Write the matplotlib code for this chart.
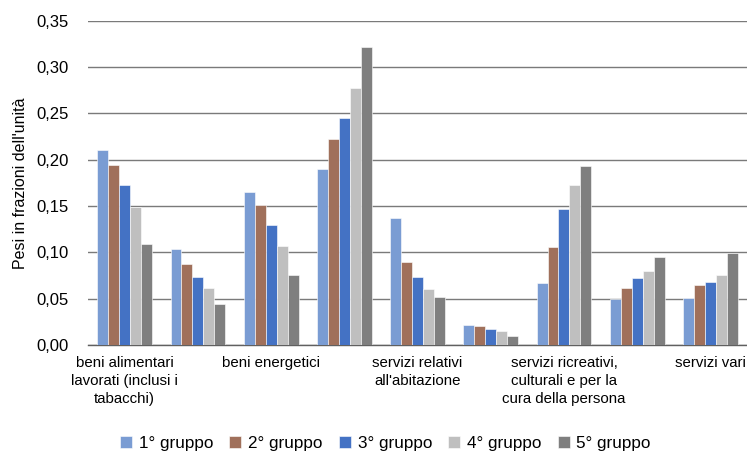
import matplotlib
matplotlib.use("Agg")
import matplotlib.pyplot as plt
import numpy as np

plt.rcParams['font.family'] = ['Liberation Sans', 'DejaVu Sans']

categories = [
    "beni alimentari\nlavorati (inclusi i\ntabacchi)",
    "beni alimentari non lavorati",
    "beni energetici",
    "altri beni",
    "servizi relativi\nall'abitazione",
    "servizi relativi alle comunicazioni",
    "servizi ricreativi,\nculturali e per la\ncura della persona",
    "servizi relativi ai trasporti",
    "servizi vari",
]
shown = [True, False, True, False, True, False, True, False, True]

series_names = ["1° gruppo", "2° gruppo", "3° gruppo", "4° gruppo", "5° gruppo"]
g1 = [0.211, 0.104, 0.165, 0.190, 0.137, 0.021, 0.067, 0.050, 0.051]
g2 = [0.194, 0.087, 0.151, 0.222, 0.090, 0.020, 0.106, 0.062, 0.065]
g3 = [0.173, 0.073, 0.129, 0.245, 0.073, 0.017, 0.147, 0.072, 0.068]
g4 = [0.149, 0.061, 0.107, 0.277, 0.060, 0.015, 0.173, 0.080, 0.076]
g5 = [0.109, 0.044, 0.075, 0.322, 0.052, 0.010, 0.193, 0.095, 0.099]
series = [g1, g2, g3, g4, g5]
colors = ["#7A9CD3", "#A0705B", "#4472C4", "#BFBFBF", "#7F7F7F"]

fig = plt.figure(figsize=(7.47, 4.55), dpi=100)
ax = fig.add_axes([0.118, 0.242, 0.882, 0.712])

x = np.arange(len(categories))
n = len(series)
group_w = 0.75
bw = group_w / n
for i, (vals, c, name) in enumerate(zip(series, colors, series_names)):
    ax.bar(x - group_w / 2 + bw * (i + 0.5), vals, width=bw, color=c,
           edgecolor="white", linewidth=0.4, label=name, zorder=3)

ax.set_xlim(-0.5, len(categories) - 0.5)
ax.set_ylim(0, 0.35)
yt = np.arange(0, 0.351, 0.05)
ax.set_yticks(yt)
ax.set_yticklabels([f"{v:.2f}".replace(".", ",") for v in yt], fontsize=12)
ax.yaxis.grid(True, color="#7a7a7a", linewidth=1.0, zorder=0)
ax.set_axisbelow(True)
for s in ["left", "right", "top"]:
    ax.spines[s].set_visible(False)
ax.spines["bottom"].set_color("#606060")
ax.spines["bottom"].set_linewidth(1.0)
ax.tick_params(axis="y", length=0, pad=14)
ax.tick_params(axis="x", length=0, pad=8)
ax.set_xticks(x)
ax.set_xticklabels([c if s else "" for c, s in zip(categories, shown)],
                   fontsize=10.8, linespacing=1.38)
ax.set_ylabel("Pesi in frazioni dell'unità", fontsize=11.5, labelpad=6)

leg = fig.legend(loc="lower center", bbox_to_anchor=(0.516, -0.026), ncol=5,
                 frameon=False, fontsize=12.3, handlelength=0.7,
                 handleheight=0.7, handletextpad=0.4, columnspacing=0.95)

fig.savefig("out.png", dpi=100)
